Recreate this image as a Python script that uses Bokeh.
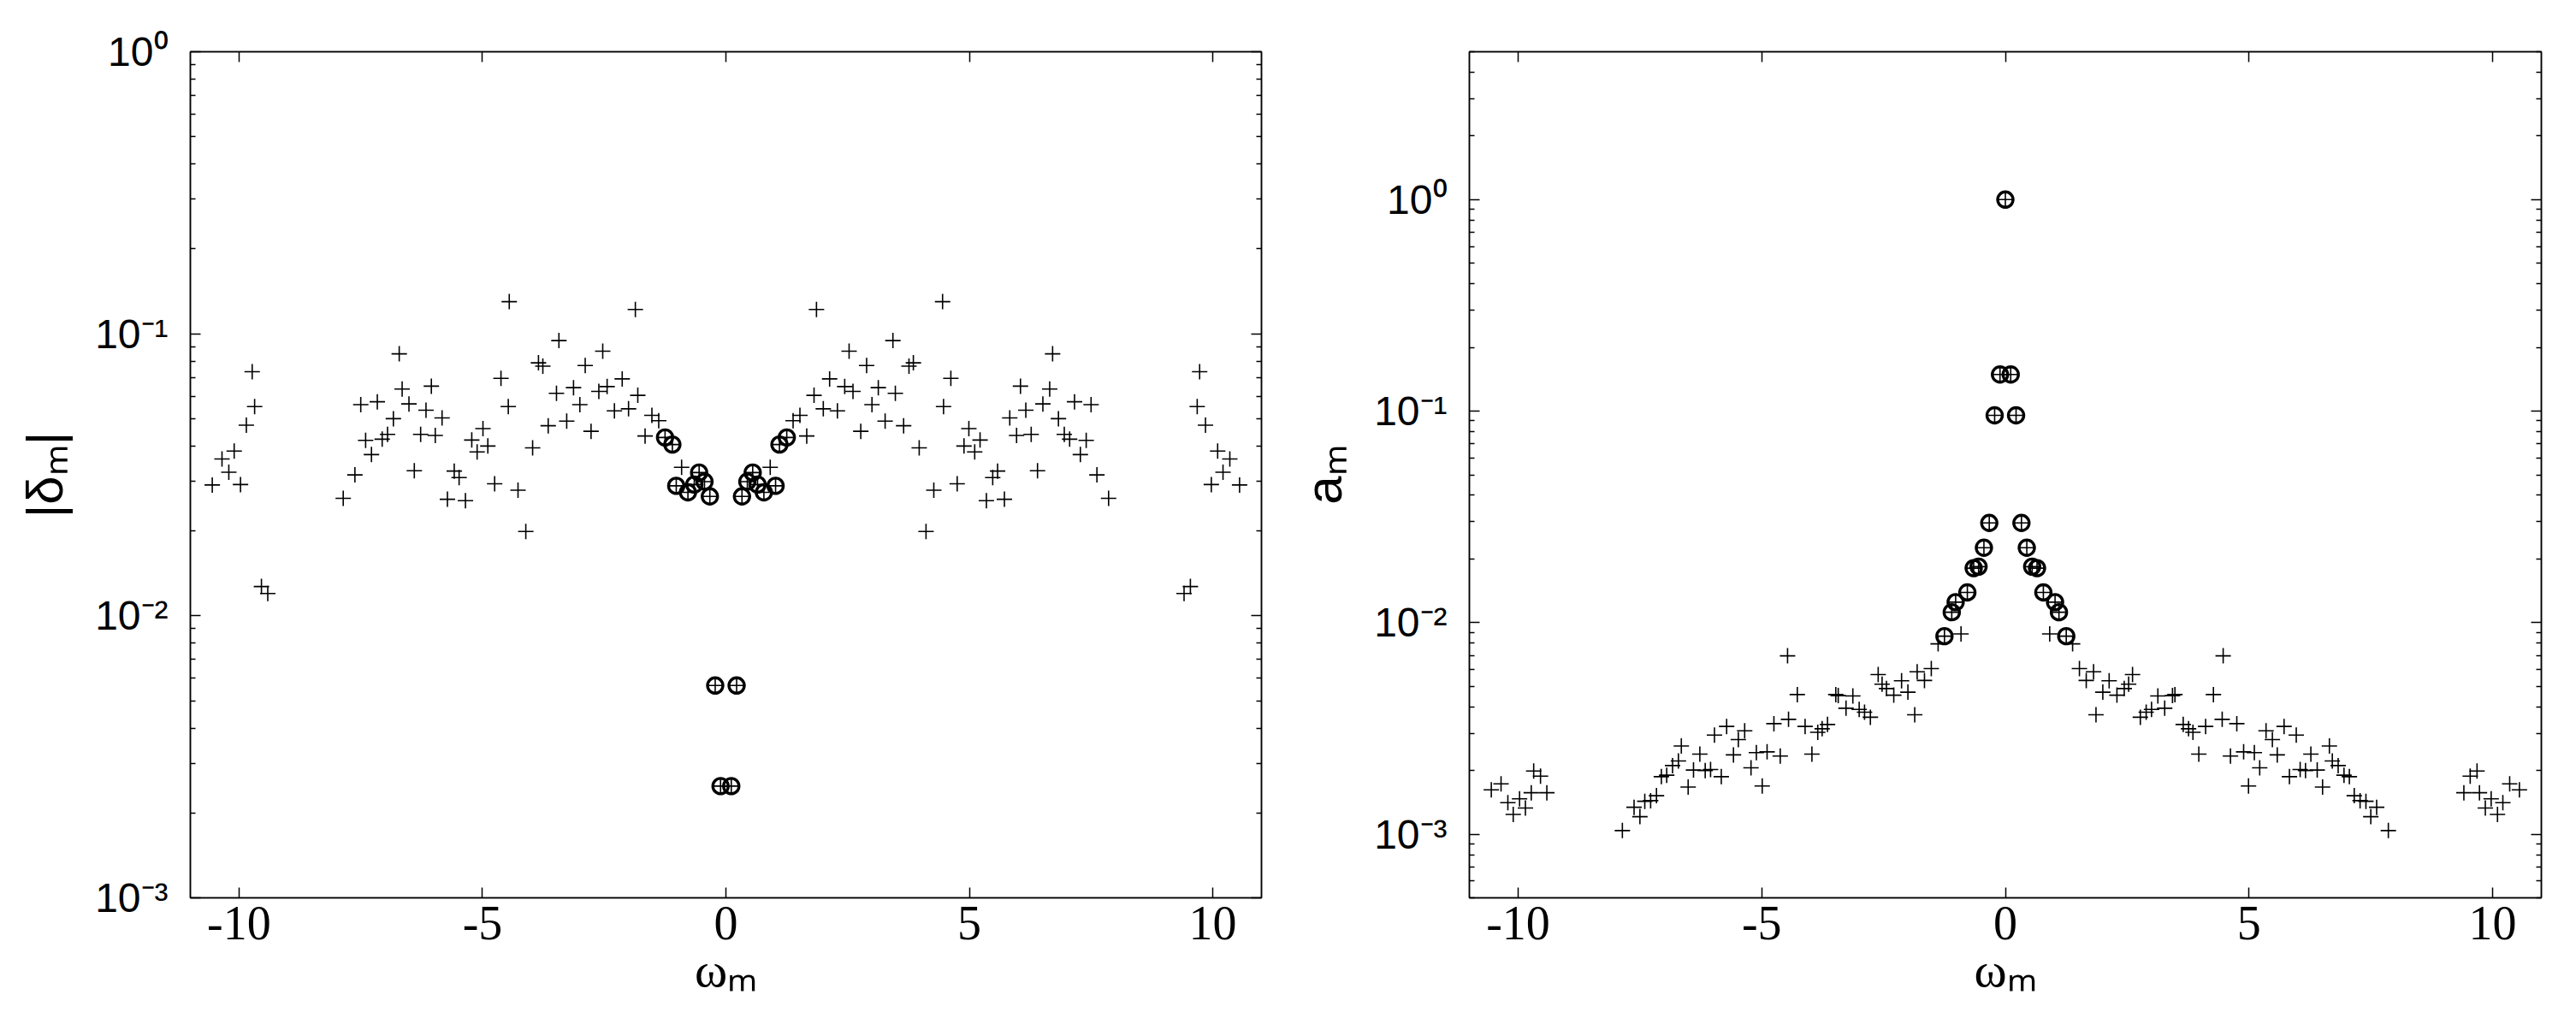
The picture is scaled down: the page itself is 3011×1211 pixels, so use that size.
import numpy as np
from bokeh.plotting import figure
from bokeh.layouts import row
from bokeh.models import (Range1d, FixedTicker, LinearAxis, LogAxis,
                          CustomJSTickFormatter)
from bokeh.embed import file_html
from bokeh.resources import INLINE

# ---------------- data ----------------
omega_neg = [-10.55, -10.35, -10.21, -10.10, -9.97, -9.85, -9.73, -9.68, -9.54, -9.41,
             -7.86, -7.62, -7.50, -7.40, -7.28, -7.16, -7.06, -6.95, -6.83, -6.71,
             -6.65, -6.51, -6.40, -6.27, -6.16, -6.05, -5.97, -5.83, -5.72, -5.58,
             -5.48, -5.35, -5.22, -5.11, -4.99, -4.89, -4.75, -4.62, -4.47, -4.45,
             -4.27, -4.11, -3.97, -3.85, -3.76, -3.65, -3.48, -3.43, -3.27, -3.13,
             -3.00, -2.89, -2.77, -2.61, -2.53, -2.44, -2.29, -2.13, -2.00, -1.86,
             -1.81, -1.66, -1.52, -1.38,
             -1.25, -1.10, -1.02, -0.91, -0.78, -0.65, -0.55, -0.44, -0.33, -0.22, -0.11]
omega_zero = [0.0]
omega_pos = [0.11, 0.22, 0.33, 0.44, 0.55, 0.65, 0.78, 0.91, 1.02, 1.10, 1.25,
             1.38, 1.52, 1.66, 1.81, 1.86, 2.00, 2.13, 2.29, 2.44, 2.53,
             2.61, 2.77, 2.89, 3.00, 3.13, 3.27, 3.43, 3.48, 3.65, 3.76,
             3.85, 3.97, 4.11, 4.27, 4.45, 4.47, 4.62, 4.75, 4.89, 4.99,
             5.11, 5.22, 5.35, 5.48, 5.58, 5.72, 5.83, 5.97, 6.05, 6.16,
             6.27, 6.40, 6.51, 6.65, 6.71, 6.83, 6.95, 7.06, 7.16, 7.28,
             7.40, 7.50, 7.62, 7.86,
             9.41, 9.54, 9.68, 9.73, 9.85, 9.97, 10.10, 10.21, 10.35, 10.55]

delta_neg = [0.0291, 0.0360, 0.0323, 0.0384, 0.0292, 0.0474, 0.0734, 0.0552, 0.0127, 0.0120,
             0.0261, 0.0316, 0.0561, 0.0419, 0.0373, 0.0574, 0.0423, 0.0440, 0.0500, 0.0849,
             0.0637, 0.0564, 0.0327, 0.0440, 0.0536, 0.0652, 0.0436, 0.0503, 0.0259, 0.0326,
             0.0309, 0.0256, 0.0420, 0.0381, 0.0461, 0.0400, 0.0294, 0.0695, 0.0552, 0.130,
             0.0279, 0.0199, 0.0394, 0.0789, 0.0768, 0.0472, 0.0615, 0.0946, 0.0490, 0.0644,
             0.0561, 0.0772, 0.0451, 0.0625, 0.0868, 0.0650, 0.0533, 0.0692, 0.0542, 0.122,
             0.0605, 0.0434, 0.0514, 0.0492,
             0.0429, 0.0405, 0.0289, 0.0336, 0.0274, 0.0292, 0.0322, 0.0299, 0.0265, 0.00566, 0.00249]
delta_zero = [np.nan]
delta_pos = [0.00249, 0.00566, 0.0265, 0.0299, 0.0322, 0.0292, 0.0274, 0.0336, 0.0289, 0.0405, 0.0429,
             0.0492, 0.0514, 0.0434, 0.0605, 0.122, 0.0542, 0.0692, 0.0533, 0.0650, 0.0868,
             0.0625, 0.0451, 0.0772, 0.0561, 0.0644, 0.0490, 0.0946, 0.0615, 0.0472, 0.0768,
             0.0789, 0.0394, 0.0199, 0.0279, 0.130, 0.0552, 0.0695, 0.0294, 0.0400, 0.0461,
             0.0381, 0.0420, 0.0256, 0.0309, 0.0326, 0.0259, 0.0503, 0.0436, 0.0652, 0.0536,
             0.0440, 0.0327, 0.0564, 0.0637, 0.0849, 0.0500, 0.0440, 0.0423, 0.0574, 0.0373,
             0.0419, 0.0561, 0.0316, 0.0261,
             0.0120, 0.0127, 0.0552, 0.0734, 0.0474, 0.0292, 0.0384, 0.0323, 0.0360, 0.0291]

a_neg = [1.62e-3, 1.73e-3, 1.41e-3, 1.24e-3, 1.47e-3, 1.33e-3, 1.57e-3, 1.99e-3, 1.88e-3, 1.57e-3,
         1.04e-3, 1.34e-3, 1.21e-3, 1.43e-3, 1.44e-3, 1.52e-3, 1.87e-3, 1.90e-3, 2.11e-3, 2.22e-3,
         2.61e-3, 1.67e-3, 2.01e-3, 2.39e-3, 2.00e-3, 2.02e-3, 2.94e-3, 1.87e-3, 3.23e-3, 2.37e-3,
         2.80e-3, 3.08e-3, 2.06e-3, 2.43e-3, 1.69e-3, 2.45e-3, 3.33e-3, 2.34e-3, 6.97e-3, 3.49e-3,
         4.57e-3, 3.23e-3, 2.39e-3, 3.03e-3, 3.15e-3, 3.30e-3, 4.57e-3, 4.52e-3, 3.94e-3, 4.50e-3,
         3.89e-3, 3.77e-3, 3.57e-3, 5.68e-3, 5.12e-3, 4.88e-3, 4.54e-3, 5.31e-3, 4.69e-3, 3.67e-3,
         5.86e-3, 5.33e-3, 6.07e-3, 7.94e-3,
         8.63e-3, 1.12e-2, 1.25e-2, 8.85e-3, 1.39e-2, 1.81e-2, 1.84e-2, 2.26e-2, 2.96e-2, 9.55e-2, 0.149]
a_zero = [1.0]
a_pos = [0.149, 9.55e-2, 2.96e-2, 2.26e-2, 1.84e-2, 1.81e-2, 1.39e-2, 8.85e-3, 1.25e-2, 1.12e-2, 8.63e-3,
         7.94e-3, 6.07e-3, 5.33e-3, 5.86e-3, 3.67e-3, 4.69e-3, 5.31e-3, 4.54e-3, 4.88e-3, 5.12e-3,
         5.68e-3, 3.57e-3, 3.77e-3, 3.89e-3, 4.50e-3, 3.94e-3, 4.52e-3, 4.57e-3, 3.30e-3, 3.15e-3,
         3.03e-3, 2.39e-3, 3.23e-3, 4.57e-3, 3.49e-3, 6.97e-3, 2.34e-3, 3.33e-3, 2.45e-3, 1.69e-3,
         2.43e-3, 2.06e-3, 3.08e-3, 2.80e-3, 2.37e-3, 3.23e-3, 1.87e-3, 2.94e-3, 2.02e-3, 2.00e-3,
         2.39e-3, 2.01e-3, 1.67e-3, 2.61e-3, 2.22e-3, 2.11e-3, 1.90e-3, 1.87e-3, 1.52e-3, 1.44e-3,
         1.43e-3, 1.21e-3, 1.34e-3, 1.04e-3,
         1.57e-3, 1.88e-3, 1.99e-3, 1.57e-3, 1.33e-3, 1.47e-3, 1.24e-3, 1.41e-3, 1.73e-3, 1.62e-3]

# frequencies marked with a circle
omega_circled = [-1.25, -1.10, -1.02, -0.78, -0.65, -0.55, -0.44, -0.33, -0.22, -0.11, 0.0,
                 0.11, 0.22, 0.33, 0.44, 0.55, 0.65, 0.78, 1.02, 1.10, 1.25]

x_ticks = [-10, -5, 0, 5, 10]
left_y_ticks = [1e-3, 1e-2, 1e-1, 1.0]
right_y_ticks = [1e-3, 1e-2, 1e-1, 1.0]

# ---------------- assemble ----------------
omega = np.array(omega_neg + omega_zero + omega_pos)
delta = np.array(delta_neg + delta_zero + delta_pos)
amp = np.array(a_neg + a_zero + a_pos)
circ = np.isin(omega, omega_circled)
ok_d = ~np.isnan(delta)

SUP_CODE = """
const e = Math.round(Math.log10(tick));
const s = {"0":"\u2070","1":"\u00b9","2":"\u00b2","3":"\u00b3","4":"\u2074","5":"\u2075",
           "6":"\u2076","7":"\u2077","8":"\u2078","9":"\u2079","-":"\u207b"};
return "10" + String(e).split("").map(c => s[c]).join("");
"""
XLAB_CODE = "return String(Math.round(tick));"
BLANK = "return '';"

H = 1191
TICK_FONT_X = "Liberation Sans Narrow"
TICK_FONT_Y = "Liberation Sans"


def minor_log(lo_exp, hi_exp):
    out = []
    for e in range(lo_exp, hi_exp + 1):
        for m in range(2, 10):
            out.append(m * 10.0 ** e)
    return out


def style_axis(ax, width=1.5):
    ax.axis_line_color = "black"
    ax.axis_line_width = width
    ax.major_tick_line_color = "black"
    ax.minor_tick_line_color = "black"
    ax.major_tick_line_width = width
    ax.minor_tick_line_width = width
    ax.major_tick_in = 12
    ax.major_tick_out = 0
    ax.minor_tick_in = 6
    ax.minor_tick_out = 0
    ax.major_label_text_color = "black"
    ax.axis_label_text_color = "black"


def make_fig(width, left_border, y_lo, y_hi, y_major, y_minor, ylabel, xs, ys, cmask):
    p = figure(width=width, height=H,
               x_range=Range1d(-11, 11), y_range=Range1d(y_lo, y_hi),
               y_axis_type="log", output_backend="svg", toolbar_location=None,
               min_border_left=left_border, min_border_right=20,
               min_border_top=60, min_border_bottom=142,
               background_fill_color="white", border_fill_color="white")
    p.xgrid.visible = False
    p.ygrid.visible = False
    p.outline_line_color = "black"
    p.outline_line_width = 1.5

    xt = FixedTicker(ticks=x_ticks, minor_ticks=[])
    yt = FixedTicker(ticks=y_major, minor_ticks=y_minor)

    xa = p.xaxis[0]
    xa.ticker = xt
    xa.formatter = CustomJSTickFormatter(code=XLAB_CODE)
    style_axis(xa)
    xa.minor_tick_in = 0
    xa.major_label_text_font = TICK_FONT_X
    xa.major_label_text_font_size = "56px"
    xa.major_label_standoff = 10
    xa.axis_label = "\u03c9\u2098"
    xa.axis_label_text_font = TICK_FONT_X
    xa.axis_label_text_font_size = "58px"
    xa.axis_label_text_font_style = "normal"
    xa.axis_label_standoff = 0

    ya = p.yaxis[0]
    ya.ticker = yt
    ya.formatter = CustomJSTickFormatter(code=SUP_CODE)
    style_axis(ya)
    ya.major_label_text_font = TICK_FONT_Y
    ya.major_label_text_font_size = "48px"
    ya.major_label_standoff = 26
    ya.axis_label = ylabel
    ya.axis_label_text_font = TICK_FONT_Y
    ya.axis_label_text_font_size = "60px"
    ya.axis_label_text_font_style = "normal"
    ya.axis_label_standoff = 22

    top = LinearAxis(ticker=xt, formatter=CustomJSTickFormatter(code=BLANK))
    style_axis(top)
    top.minor_tick_in = 0
    top.major_label_standoff = 0
    p.add_layout(top, "above")

    right = LogAxis(ticker=yt, formatter=CustomJSTickFormatter(code=BLANK))
    style_axis(right)
    right.major_label_standoff = 0
    p.add_layout(right, "right")

    p.scatter(xs, ys, marker="cross", size=18, line_color="black", line_width=1.6)
    p.scatter(xs[cmask], ys[cmask], marker="circle", size=18, fill_color=None,
              line_color="black", line_width=3.4)
    return p


p1 = make_fig(1494, 222, 1e-3, 1.0, left_y_ticks, minor_log(-3, -1),
              "|\u03b4\u2098|", omega[ok_d], delta[ok_d], circ[ok_d])
p2 = make_fig(1496, 223, 5e-4, 5.0, right_y_ticks, minor_log(-4, 0),
              "a\u2098", omega, amp, circ)

layout = row(p1, p2)
with open("out.html", "w", encoding="utf-8") as f:
    f.write(file_html(layout, INLINE))
